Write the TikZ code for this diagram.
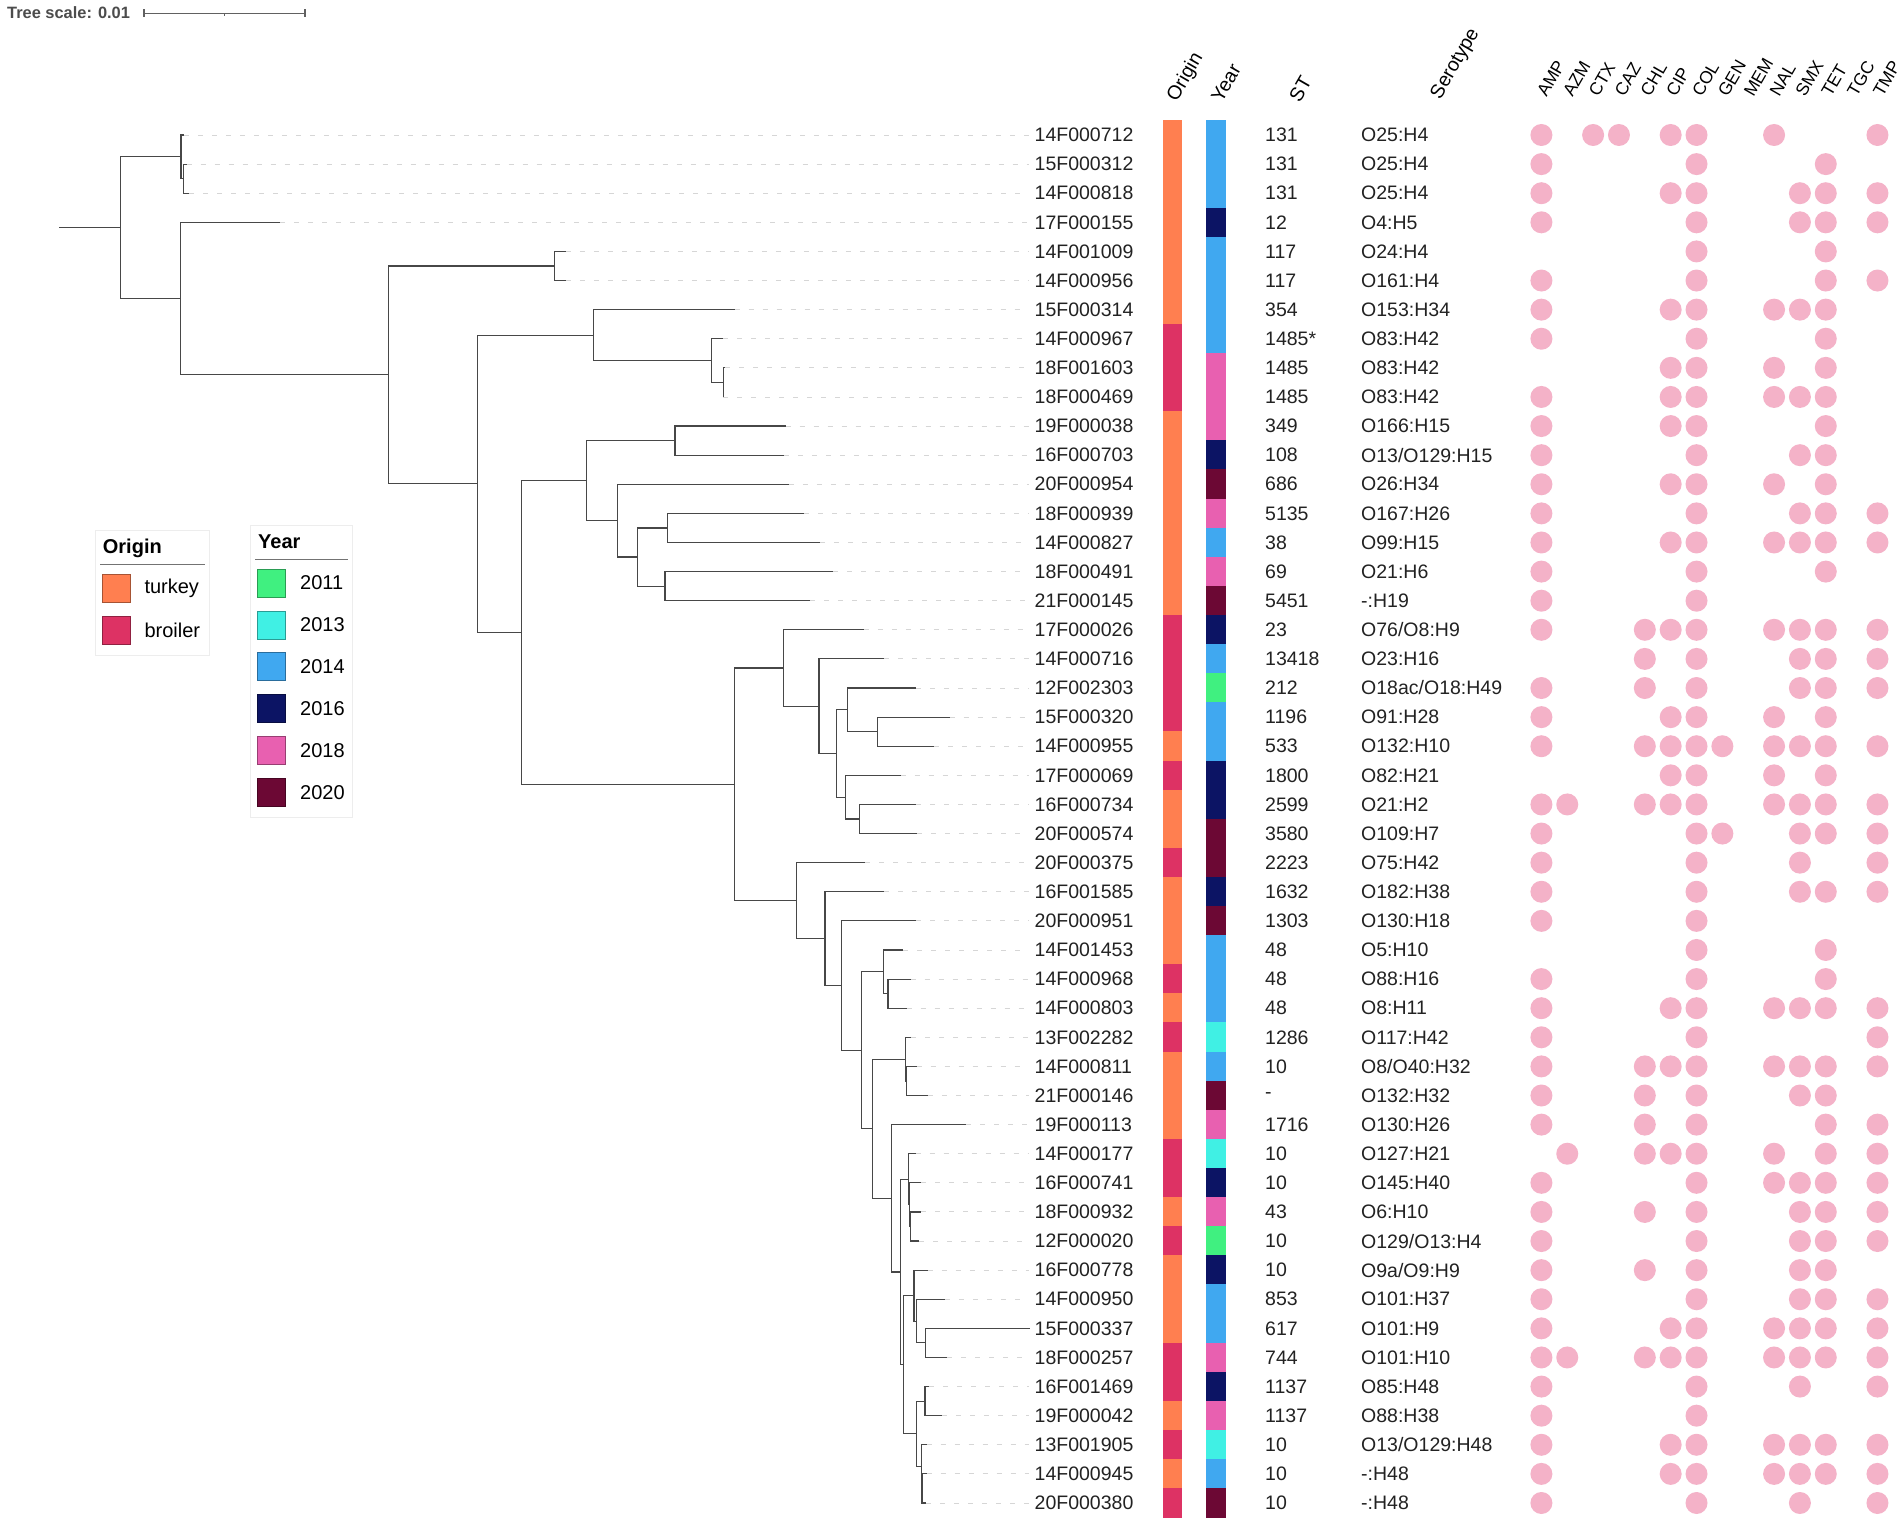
\documentclass[tikz,border=0pt]{standalone}
\usepackage{fontspec}
\setmainfont{Liberation Sans}
\definecolor{oT}{RGB}{255,127,80}
\definecolor{oB}{RGB}{221,50,100}
\definecolor{y11}{RGB}{64,240,128}
\definecolor{y13}{RGB}{64,240,228}
\definecolor{y14}{RGB}{64,168,240}
\definecolor{y16}{RGB}{12,20,100}
\definecolor{y18}{RGB}{232,96,176}
\definecolor{y20}{RGB}{108,8,52}
\definecolor{abpink}{RGB}{244,178,200}
\definecolor{txt}{RGB}{34,34,34}
\tikzset{
  br/.style={line width=1.15pt, draw=black!72},
  leader/.style={line width=0.9pt, draw=black!16, dash pattern=on 5pt off 9pt, shorten >=6pt},
  lab/.style={anchor=west, inner sep=0pt, text=txt, font=\fontsize{19.5}{20}\selectfont},
  hdr/.style={rotate=60, anchor=west, inner sep=0pt, font=\fontsize{19.5}{20}\selectfont},
  hdrab/.style={rotate=60, anchor=west, inner sep=0pt, font=\fontsize{17.5}{18}\selectfont},
  legbox/.style={draw=black!7, line width=1pt, fill=white},
  legtxt/.style={anchor=west, inner sep=0pt, font=\fontsize{20}{20}\selectfont},
  legttl/.style={anchor=base west, inner sep=0pt, font=\bfseries\fontsize{20}{20}\selectfont},
}
\newcommand\tabrow[8]{%
  \pgfmathsetmacro\ry{135+29.106*#1}%
  \coordinate (t#1) at (#2,\ry);
  \node[lab] (l#1) at (1034.5,\ry) {#3};
  \fill[o#4] (1163,\ry-14.8) rectangle (1182,\ry+14.8);
  \fill[y#5] (1206,\ry-14.8) rectangle (1225.5,\ry+14.8);
  \node[lab] (st#1) at (1265,\ry) {#6};
  \node[lab] (se#1) at (1361,\ry) {#7};
  \foreach \c in {#8} {\fill[abpink] (1541.4+25.85*\c,\ry) circle (11);}
}
\begin{document}
\begin{tikzpicture}[x=1pt,y=-1pt]
\useasboundingbox (0,0) rectangle (1902,1525);
\fill[white] (0,0) rectangle (1902,1525);
% tree scale
\node[anchor=west, inner sep=0pt, text=black!70, font=\bfseries\fontsize{16.4}{16}\selectfont] (tscale) at (7,13) {Tree scale: 0.01};
\draw[black!62, line width=1.5pt] (144,13.3) -- (305,13.3);
\draw[black!62, line width=1.5pt] (144,9.5) -- (144,17.2);
\draw[black!62, line width=1.5pt] (305,9.5) -- (305,17.2);
\draw[black!62, line width=1.2pt] (224.5,13.3) -- (224.5,15.6);
% table rows
\tabrow{0}{184.3}{14F000712}{T}{14}{131}{O25:H4}{0,2,3,5,6,9,13}
\tabrow{1}{186.7}{15F000312}{T}{14}{131}{O25:H4}{0,6,11}
\tabrow{2}{189.3}{14F000818}{T}{14}{131}{O25:H4}{0,5,6,10,11,13}
\tabrow{3}{280}{17F000155}{T}{16}{12}{O4:H5}{0,6,10,11,13}
\tabrow{4}{565.9}{14F001009}{T}{14}{117}{O24:H4}{6,11}
\tabrow{5}{565.9}{14F000956}{T}{14}{117}{O161:H4}{0,6,11,13}
\tabrow{6}{734.6}{15F000314}{T}{14}{354}{O153:H34}{0,5,6,9,10,11}
\tabrow{7}{723.2}{14F000967}{B}{14}{1485*}{O83:H42}{0,6,11}
\tabrow{8}{725}{18F001603}{B}{18}{1485}{O83:H42}{5,6,9,11}
\tabrow{9}{723.2}{18F000469}{B}{18}{1485}{O83:H42}{0,5,6,9,10,11}
\tabrow{10}{785.5}{19F000038}{T}{18}{349}{O166:H15}{0,5,6,11}
\tabrow{11}{784.2}{16F000703}{T}{16}{108}{O13/O129:H15}{0,6,10,11}
\tabrow{12}{788.9}{20F000954}{T}{20}{686}{O26:H34}{0,5,6,9,11}
\tabrow{13}{804.3}{18F000939}{T}{18}{5135}{O167:H26}{0,6,10,11,13}
\tabrow{14}{820.3}{14F000827}{T}{14}{38}{O99:H15}{0,5,6,9,10,11,13}
\tabrow{15}{833}{18F000491}{T}{18}{69}{O21:H6}{0,6,11}
\tabrow{16}{810.3}{21F000145}{T}{20}{5451}{-:H19}{0,6}
\tabrow{17}{863.9}{17F000026}{B}{16}{23}{O76/O8:H9}{0,4,5,6,9,10,11,13}
\tabrow{18}{884}{14F000716}{B}{14}{13418}{O23:H16}{4,6,10,11,13}
\tabrow{19}{916}{12F002303}{B}{11}{212}{O18ac/O18:H49}{0,4,6,10,11,13}
\tabrow{20}{949.6}{15F000320}{B}{14}{1196}{O91:H28}{0,5,6,9,11}
\tabrow{21}{934.2}{14F000955}{T}{14}{533}{O132:H10}{0,4,5,6,7,9,10,11,13}
\tabrow{22}{900.7}{17F000069}{B}{16}{1800}{O82:H21}{5,6,9,11}
\tabrow{23}{916}{16F000734}{T}{16}{2599}{O21:H2}{0,1,4,5,6,9,10,11,13}
\tabrow{24}{917.4}{20F000574}{T}{20}{3580}{O109:H7}{0,6,7,10,11,13}
\tabrow{25}{865.2}{20F000375}{B}{20}{2223}{O75:H42}{0,6,10,13}
\tabrow{26}{884}{16F001585}{T}{16}{1632}{O182:H38}{0,6,10,11,13}
\tabrow{27}{916}{20F000951}{T}{20}{1303}{O130:H18}{0,6}
\tabrow{28}{903.3}{14F001453}{T}{14}{48}{O5:H10}{6,11}
\tabrow{29}{910.7}{14F000968}{B}{14}{48}{O88:H16}{0,6,11}
\tabrow{30}{906.7}{14F000803}{T}{14}{48}{O8:H11}{0,5,6,9,10,11,13}
\tabrow{31}{911}{13F002282}{B}{13}{1286}{O117:H42}{0,6,13}
\tabrow{32}{916.7}{14F000811}{T}{14}{10}{O8/O40:H32}{0,4,5,6,9,10,11,13}
\tabrow{33}{928.3}{21F000146}{T}{20}{-}{O132:H32}{0,4,6,10,11}
\tabrow{34}{966}{19F000113}{T}{18}{1716}{O130:H26}{0,4,6,11,13}
\tabrow{35}{915.7}{14F000177}{B}{13}{10}{O127:H21}{1,4,5,6,9,11,13}
\tabrow{36}{921}{16F000741}{B}{16}{10}{O145:H40}{0,6,9,10,11,13}
\tabrow{37}{921}{18F000932}{T}{18}{43}{O6:H10}{0,4,6,10,11,13}
\tabrow{38}{919.3}{12F000020}{B}{11}{10}{O129/O13:H4}{0,6,10,11,13}
\tabrow{39}{927.7}{16F000778}{T}{16}{10}{O9a/O9:H9}{0,4,6,10,11}
\tabrow{40}{945.3}{14F000950}{T}{14}{853}{O101:H37}{0,6,10,11,13}
\tabrow{41}{1030}{15F000337}{T}{14}{617}{O101:H9}{0,5,6,9,10,11,13}
\tabrow{42}{947}{18F000257}{B}{18}{744}{O101:H10}{0,1,4,5,6,9,10,11,13}
\tabrow{43}{929.3}{16F001469}{B}{16}{1137}{O85:H48}{0,6,10,13}
\tabrow{44}{942.3}{19F000042}{T}{18}{1137}{O88:H38}{0,6}
\tabrow{45}{926.7}{13F001905}{B}{13}{10}{O13/O129:H48}{0,5,6,9,10,11,13}
\tabrow{46}{926.7}{14F000945}{T}{14}{10}{-:H48}{0,5,6,9,10,11,13}
\tabrow{47}{926}{20F000380}{B}{20}{10}{-:H48}{0,6,10,13}
% leaders
\foreach \i in {0,...,40,42,43,44,45,46,47} {\draw[leader] (t\i) -- (l\i.west);}
% headers
\node[hdr] (hOrigin) at (1172.5,100) {Origin};
\node[hdr] (hYear) at (1216,100) {Year};
\node[hdr] (hST) at (1294,100) {ST};
\node[hdr] (hSero) at (1436,98) {Serotype};
\foreach \n [count=\k from 0] in {AMP,AZM,CTX,CAZ,CHL,CIP,COL,GEN,MEM,NAL,SMX,TET,TGC,TMP}
  {\node[hdrab] (h\n) at (1541.4+25.85*\k,95) {\n};}
% tree internal nodes
\coordinate (root) at (59,227.72);
\coordinate (A) at (120.5,227.72);
\coordinate (B) at (181,156.83);
\coordinate (C) at (183.3,178.66);
\coordinate (D) at (180.8,298.61);
\coordinate (E) at (388.4,374.89);
\coordinate (F) at (554.5,265.98);
\coordinate (G) at (477.5,483.80);
\coordinate (H) at (593.3,335.11);
\coordinate (I) at (711.2,360.57);
\coordinate (J) at (723.2,382.40);
\coordinate (K) at (521.7,632.48);
\coordinate (L) at (586.6,480.63);
\coordinate (M) at (675,440.61);
\coordinate (N) at (617.4,520.66);
\coordinate (O) at (637.5,557.04);
\coordinate (P) at (667.6,527.93);
\coordinate (Q) at (665,586.15);
\coordinate (R) at (734.6,784.33);
\coordinate (S) at (783.5,668.00);
\coordinate (T) at (819,706.21);
\coordinate (U) at (836.4,753.50);
\coordinate (V) at (847.8,709.84);
\coordinate (W) at (877.2,731.68);
\coordinate (X) at (845.8,797.16);
\coordinate (Y) at (859.8,818.99);
\coordinate (Z) at (796.9,900.66);
\coordinate (AA) at (825,938.66);
\coordinate (AB) at (841.8,985.56);
\coordinate (AC) at (861.7,1050.25);
\coordinate (AD) at (883.3,971.80);
\coordinate (AE) at (888,993.63);
\coordinate (AF) at (872.7,1128.70);
\coordinate (AG) at (905.3,1059.12);
\coordinate (AH) at (906.7,1080.95);
\coordinate (AI) at (891.3,1198.28);
\coordinate (AJ) at (900.7,1271.96);
\coordinate (AK) at (908.7,1179.18);
\coordinate (AL) at (909.5,1204.65);
\coordinate (AM) at (910.7,1226.48);
\coordinate (AN) at (903.3,1364.73);
\coordinate (AO) at (914,1295.60);
\coordinate (AP) at (916.7,1321.07);
\coordinate (AQ) at (925.7,1342.90);
\coordinate (AR) at (916.7,1433.86);
\coordinate (AS) at (925,1401.11);
\coordinate (AT) at (921.3,1466.60);
\coordinate (AU) at (922,1488.43);
\draw[br] (root) -- (A);
\foreach \p/\c in {A/B,A/D,B/t0,B/C,C/t1,C/t2,D/t3,D/E,E/F,E/G,F/t4,F/t5,G/H,G/K,H/t6,H/I,I/t7,I/J,J/t8,J/t9,
  K/L,K/R,L/M,L/N,M/t10,M/t11,N/t12,N/O,O/P,O/Q,P/t13,P/t14,Q/t15,Q/t16,
  R/S,R/Z,S/t17,S/T,T/t18,T/U,U/V,U/X,V/t19,V/W,W/t20,W/t21,X/t22,X/Y,Y/t23,Y/t24,
  Z/t25,Z/AA,AA/t26,AA/AB,AB/t27,AB/AC,AC/AD,AC/AF,AD/t28,AD/AE,AE/t29,AE/t30,
  AF/AG,AF/AI,AG/t31,AG/AH,AH/t32,AH/t33,AI/t34,AI/AJ,AJ/AK,AJ/AN,AK/t35,AK/AL,AL/t36,AL/AM,AM/t37,AM/t38,
  AN/AO,AN/AR,AO/t39,AO/AP,AP/t40,AP/AQ,AQ/t41,AQ/t42,AR/AS,AR/AT,AS/t43,AS/t44,AT/t45,AT/AU,AU/t46,AU/t47}
  {\draw[br] (\p) |- (\c);}
% legend: Origin
\draw[legbox] (95.7,530) rectangle (209.3,655);
\node[legttl] (lgO) at (102.7,553.3) {Origin};
\draw[black!55, line width=1.5pt] (100,564.3) -- (205,564.3);
\draw[fill=oT, draw=oT!65!black, line width=0.8pt] (102,574.3) rectangle (130.7,602.3);
\node[legtxt] (lgTurkey) at (144.3,588.3) {turkey};
\draw[fill=oB, draw=oB!65!black, line width=0.8pt] (102,616) rectangle (130.7,644.7);
\node[legtxt] (lgBroiler) at (144.3,630.3) {broiler};
% legend: Year
\draw[legbox] (250.7,525) rectangle (352.7,817);
\node[legttl] (lgY) at (258,548) {Year};
\draw[black!55, line width=1.5pt] (255,559.3) -- (348,559.3);
\foreach \yc/\yl/\yy [count=\k] in {y11/2011/583,y13/2013/624.9,y14/2014/666.7,y16/2016/708.8,y18/2018/750.7,y20/2020/792.5}
  {\draw[fill=\yc, draw=\yc!65!black, line width=0.8pt] (257.3,\yy-14) rectangle (285.7,\yy+14);
   \node[legtxt] (lgy\k) at (300,\yy) {\yl};}
\end{tikzpicture}
\end{document}
